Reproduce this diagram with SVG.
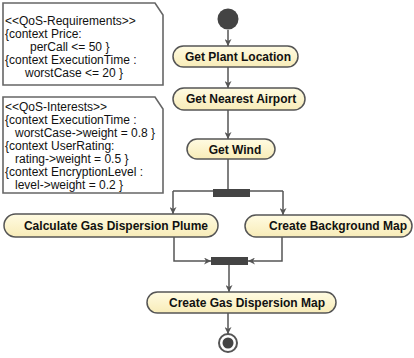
<svg xmlns="http://www.w3.org/2000/svg" width="414" height="358" viewBox="0 0 414 358">
<style>
.note{fill:#fff;stroke:#666;stroke-width:1.6}
.nt{font-family:"Liberation Sans",Arial,sans-serif;font-size:12px;fill:#111}
.pill{fill:url(#pg);stroke:#555;stroke-width:1.5}
.pt{font-family:"Liberation Sans",Arial,sans-serif;font-size:12px;font-weight:bold;fill:#111;text-anchor:middle}
.edge{fill:none;stroke:#555;stroke-width:1.5;marker-end:url(#ah)}
.line{fill:none;stroke:#555;stroke-width:1.5}
.bar{fill:#444}
</style>
<defs>
<linearGradient id="pg" x1="0" y1="0" x2="0" y2="1">
<stop offset="0" stop-color="#fffbe2"/>
<stop offset="1" stop-color="#f8ecb8"/>
</linearGradient>
<marker id="ah" viewBox="0 0 10 10" refX="10" refY="5" markerWidth="7" markerHeight="7" markerUnits="userSpaceOnUse" orient="auto">
<path d="M0,0 L10,5 L0,10 L3,5 Z" fill="#555"/>
</marker>
</defs>
<g id="note-requirements">
<path class="note" d="M3,3 H155 L163,15 V85 H3 Z"/>
<text class="nt" x="5" y="25">&lt;&lt;QoS-Requirements&gt;&gt;</text>
<text class="nt" x="5" y="38">{context Price:</text>
<text class="nt" x="30" y="51">perCall &lt;= 50 }</text>
<text class="nt" x="5" y="64">{context ExecutionTime :</text>
<text class="nt" x="25" y="77">worstCase  &lt;= 20 }</text>
</g>
<g id="note-interests">
<path class="note" d="M3,97 H155 L163,109 V193 H3 Z"/>
<text class="nt" x="5" y="111">&lt;&lt;QoS-Interests&gt;&gt;</text>
<text class="nt" x="5" y="124">{context ExecutionTime :</text>
<text class="nt" x="15" y="137">worstCase-&gt;weight = 0.8 }</text>
<text class="nt" x="5" y="150">{context UserRating:</text>
<text class="nt" x="15" y="163">rating-&gt;weight = 0.5 }</text>
<text class="nt" x="5" y="176">{context EncryptionLevel :</text>
<text class="nt" x="15" y="189">level-&gt;weight = 0.2 }</text>
</g>
<g id="connectors">
<path class="edge" d="M228,30 V46"/>
<path class="edge" d="M228,67 V88"/>
<path class="edge" d="M228,110 V139"/>
<path class="line" d="M228,159 V190"/>
<path class="edge" d="M173,191 V214"/>
<path class="edge" d="M283,191 V215"/>
<path class="line" d="M173,191 H283"/>
<path class="edge" d="M174,237 V261 H211"/>
<path class="edge" d="M282,237 V261 H248"/>
<path class="edge" d="M229,265 V292"/>
<path class="edge" d="M228,313 V334"/>
</g>
<g id="initial">
<circle cx="228" cy="19" r="10.5" fill="#444"/>
</g>
<g id="get-plant-location">
<rect class="pill" x="173" y="46" width="125" height="21" rx="10.5"/>
<text class="pt" x="238" y="61">Get Plant Location</text>
</g>
<g id="get-nearest-airport">
<rect class="pill" x="173" y="88" width="132" height="22" rx="11"/>
<text class="pt" x="241" y="103">Get Nearest Airport</text>
</g>
<g id="get-wind">
<rect class="pill" x="187" y="139" width="88" height="20" rx="10"/>
<text class="pt" x="235" y="153.5">Get Wind</text>
</g>
<g id="fork">
<rect class="bar" x="213" y="189" width="37" height="8"/>
</g>
<g id="calculate-plume">
<rect class="pill" x="4" y="214" width="214" height="23" rx="11.5"/>
<text class="pt" x="116" y="230">Calculate Gas Dispersion Plume</text>
</g>
<g id="create-background-map">
<rect class="pill" x="245" y="215" width="167" height="22" rx="11"/>
<text class="pt" x="338" y="230">Create Background Map</text>
</g>
<g id="join">
<rect class="bar" x="211" y="257" width="37" height="8"/>
</g>
<g id="create-gas-map">
<rect class="pill" x="147" y="292" width="189" height="21" rx="10.5"/>
<text class="pt" x="247" y="307">Create Gas Dispersion Map</text>
</g>
<g id="final">
<circle cx="228" cy="343" r="9" fill="#fff" stroke="#555" stroke-width="2"/>
<circle cx="228" cy="343" r="5.5" fill="#444"/>
</g>
</svg>
